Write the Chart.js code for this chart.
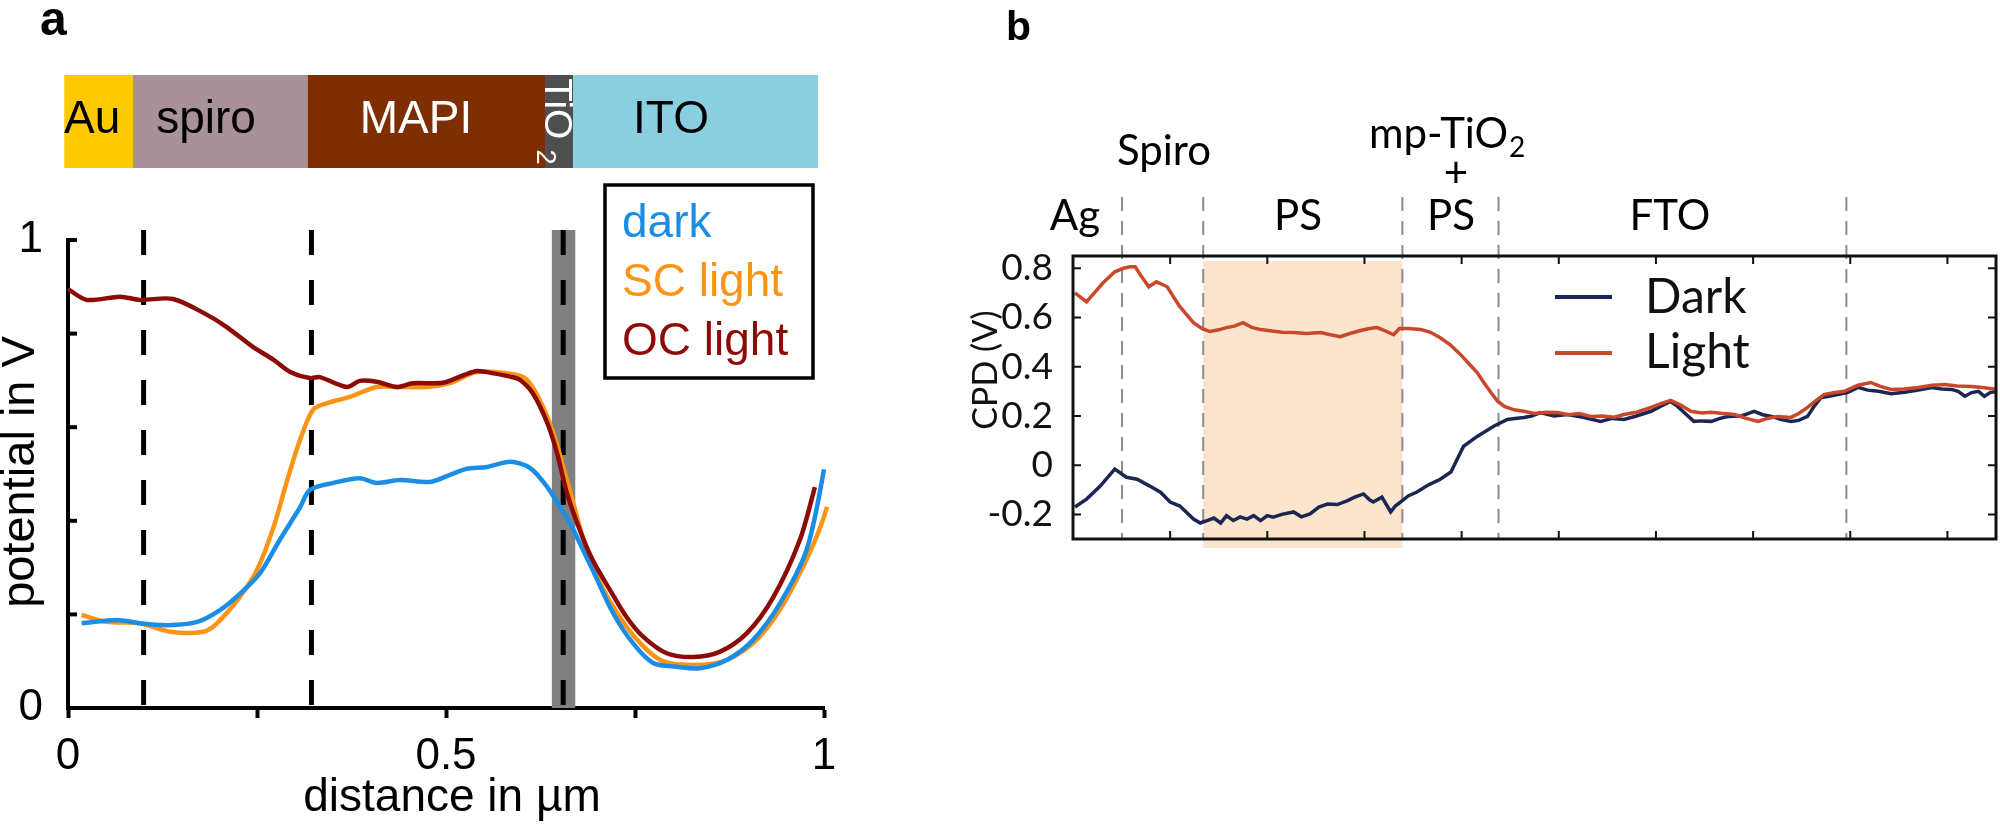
<!DOCTYPE html>
<html lang="pt-BR">
<head>
<meta charset="utf-8">
<title>Perfis de potencial</title>
<script src="https://cdn.jsdelivr.net/npm/chart.js@4.4.1/dist/chart.umd.min.js"></script>
<style>
    html, body { margin: 0; padding: 0; background: #fff; }
    body { width: 2000px; height: 825px; position: relative; overflow: hidden; }
    canvas { position: absolute; top: 0; }
    #graficoA { left: 0; }
    #graficoB { left: 940px; }
</style>
</head>
<body>
<canvas id="graficoA" width="940" height="825"></canvas>
<canvas id="graficoB" width="1060" height="825"></canvas>
<script>
// ---------------- Painel a: potencial (V) x distância (µm) ----------------
const distanciaEscuro = [0.018, 0.065, 0.095, 0.131, 0.171, 0.201, 0.228, 0.254, 0.280, 0.307,
    0.320, 0.351, 0.386, 0.408, 0.439, 0.479, 0.505, 0.527, 0.554, 0.585,
    0.611, 0.634, 0.651, 0.664, 0.694, 0.721, 0.747, 0.774, 0.805, 0.836,
    0.872, 0.906, 0.942, 0.977, 1.0, 1.018];
const potencialEscuro = [0.181, 0.188, 0.181, 0.177, 0.184, 0.209, 0.245, 0.288, 0.359, 0.429,
    0.466, 0.481, 0.491, 0.481, 0.487, 0.483, 0.498, 0.511, 0.515, 0.526,
    0.513, 0.472, 0.429, 0.395, 0.295, 0.203, 0.139, 0.096, 0.088, 0.085,
    0.103, 0.145, 0.224, 0.338, 0.51, 0.70];

const distanciaSC = [0.018, 0.051, 0.095, 0.135, 0.179, 0.197, 0.227, 0.250, 0.272, 0.290,
    0.307, 0.324, 0.342, 0.373, 0.408, 0.435, 0.475, 0.505, 0.541, 0.589,
    0.607, 0.624, 0.642, 0.660, 0.694, 0.739, 0.783, 0.827, 0.872, 0.915,
    0.959, 1.004, 1.018];
const potencialSC = [0.199, 0.184, 0.181, 0.163, 0.163, 0.181, 0.237, 0.295, 0.387, 0.487,
    0.573, 0.637, 0.651, 0.665, 0.686, 0.686, 0.686, 0.694, 0.718, 0.713,
    0.701, 0.658, 0.587, 0.487, 0.302, 0.173, 0.103, 0.092, 0.103, 0.152,
    0.259, 0.43, 0.61];

const distanciaOC = [0, 0.025, 0.069, 0.095, 0.139, 0.184, 0.210, 0.245, 0.272, 0.294,
    0.320, 0.333, 0.369, 0.386, 0.408, 0.435, 0.456, 0.496, 0.523, 0.541,
    0.563, 0.585, 0.598, 0.615, 0.634, 0.647, 0.660, 0.677, 0.694, 0.717,
    0.739, 0.761, 0.792, 0.827, 0.862, 0.898, 0.933, 0.968, 0.988];
const potencialOC = [0.895, 0.872, 0.879, 0.872, 0.874, 0.840, 0.814, 0.771, 0.744, 0.718,
    0.705, 0.707, 0.686, 0.699, 0.697, 0.686, 0.694, 0.695, 0.711, 0.720,
    0.715, 0.708, 0.701, 0.672, 0.609, 0.544, 0.459, 0.380, 0.316, 0.252,
    0.194, 0.152, 0.117, 0.109, 0.120, 0.160, 0.237, 0.359, 0.472];

const seriesA = ['dark', 'SC light', 'OC light'];
const ticksXA = [0, 0.25, 0.5, 0.75, 1];
const rotulosXA = ['0', '', '0.5', '', '1'];
const ticksYA = [0, 0.2, 0.4, 0.6, 0.8, 1];
const rotulosYA = ['0', '', '', '', '', '1'];

// camadas do dispositivo (limites em µm)
const camadasA = ['Au', 'spiro', 'MAPI', 'TiO2', 'ITO'];
const limitesCamadasA = [-0.005, 0.086, 0.317, 0.631, 0.668, 0.992];
const interfacesA = [0.100, 0.322, 0.655];
const faixaTiO2 = [0.640, 0.671];

// ---------------- Painel b: CPD (V) ----------------
const posicaoDarkB = [0.02, 0.14, 0.28, 0.43, 0.55, 0.66, 0.79, 0.90, 1.00, 1.10,
    1.24, 1.31, 1.38, 1.45, 1.52, 1.58, 1.65, 1.72, 1.79, 1.86,
    1.93, 2.00, 2.06, 2.15, 2.27, 2.35, 2.44, 2.53, 2.62, 2.72,
    2.82, 2.90, 2.99, 3.05, 3.09, 3.18, 3.27, 3.32, 3.37, 3.45,
    3.54, 3.66, 3.78, 3.89, 4.02, 4.16, 4.33, 4.47, 4.55, 4.64,
    4.72, 4.81, 4.95, 5.09, 5.25, 5.43, 5.55, 5.67, 5.80, 5.95,
    6.05, 6.15, 6.22, 6.29, 6.39, 6.47, 6.57, 6.66, 6.74, 6.88,
    7.01, 7.10, 7.19, 7.29, 7.39, 7.47, 7.56, 7.63, 7.70, 7.78,
    7.87, 7.97, 8.08, 8.18, 8.29, 8.42, 8.56, 8.70, 8.84, 8.94,
    9.04, 9.11, 9.18, 9.25, 9.32, 9.38, 9.44, 9.50];
const cpdDarkB = [-0.17, -0.138, -0.085, -0.016, -0.049, -0.057, -0.085, -0.11, -0.15, -0.166,
    -0.219, -0.235, -0.225, -0.215, -0.235, -0.205, -0.225, -0.21, -0.219, -0.205,
    -0.225, -0.205, -0.211, -0.2, -0.19, -0.21, -0.198, -0.17, -0.158, -0.16,
    -0.145, -0.13, -0.117, -0.14, -0.15, -0.13, -0.19, -0.165, -0.15, -0.125,
    -0.109, -0.08, -0.057, -0.028, 0.077, 0.117, 0.158, 0.186, 0.19, 0.194,
    0.2, 0.214, 0.2, 0.206, 0.195, 0.178, 0.19, 0.186, 0.2, 0.219,
    0.24, 0.259, 0.24, 0.214, 0.178, 0.18, 0.178, 0.19, 0.198, 0.2,
    0.219, 0.205, 0.198, 0.185, 0.178, 0.182, 0.198, 0.24, 0.275, 0.28,
    0.287, 0.295, 0.316, 0.305, 0.3, 0.29, 0.296, 0.305, 0.316, 0.31,
    0.308, 0.3, 0.28, 0.295, 0.3, 0.28, 0.295, 0.3];

const posicaoLightB = [0.02, 0.14, 0.22, 0.31, 0.43, 0.52, 0.59, 0.64, 0.70, 0.78,
    0.86, 0.97, 1.04, 1.10, 1.24, 1.33, 1.41, 1.50, 1.58, 1.66,
    1.75, 1.84, 1.93, 2.05, 2.15, 2.27, 2.40, 2.55, 2.65, 2.75,
    2.85, 2.96, 3.05, 3.13, 3.22, 3.30, 3.36, 3.45, 3.58, 3.68,
    3.78, 3.88, 3.99, 4.08, 4.16, 4.23, 4.30, 4.37, 4.44, 4.54,
    4.64, 4.75, 4.87, 4.99, 5.10, 5.21, 5.33, 5.45, 5.57, 5.67,
    5.80, 5.95, 6.05, 6.15, 6.25, 6.36, 6.47, 6.57, 6.69, 6.81,
    6.93, 7.05, 7.15, 7.25, 7.39, 7.47, 7.56, 7.64, 7.73, 7.84,
    7.94, 8.08, 8.21, 8.31, 8.42, 8.55, 8.70, 8.84, 8.97, 9.10,
    9.25, 9.38, 9.50];
const cpdLightB = [0.70, 0.664, 0.70, 0.741, 0.786, 0.80, 0.806, 0.806, 0.77, 0.725,
    0.745, 0.725, 0.68, 0.644, 0.579, 0.555, 0.543, 0.55, 0.559, 0.565,
    0.579, 0.56, 0.551, 0.545, 0.54, 0.539, 0.535, 0.539, 0.53, 0.522,
    0.535, 0.547, 0.555, 0.559, 0.545, 0.530, 0.555, 0.555, 0.551, 0.54,
    0.518, 0.49, 0.449, 0.41, 0.376, 0.335, 0.296, 0.26, 0.239, 0.225,
    0.219, 0.21, 0.215, 0.214, 0.205, 0.21, 0.198, 0.2, 0.195, 0.206,
    0.215, 0.235, 0.25, 0.263, 0.245, 0.219, 0.212, 0.215, 0.21, 0.206,
    0.19, 0.178, 0.19, 0.198, 0.194, 0.21, 0.235, 0.26, 0.287, 0.295,
    0.3, 0.325, 0.336, 0.32, 0.308, 0.31, 0.316, 0.325, 0.328, 0.322,
    0.32, 0.315, 0.308];

const seriesB = ['Dark', 'Light'];
const ticksXB = [0, 1, 2, 3, 4, 5, 6, 7, 8, 9];
const ticksYB = [-0.2, 0, 0.2, 0.4, 0.6, 0.8];
const rotulosYB = ['-0.2', '0', '0.2', '0.4', '0.6', '0.8'];
const interfacesB = [0.505, 1.34, 3.39, 4.38, 7.96];
const regiaoPS = [1.34, 3.39];

const FONTE_A = "'Liberation Sans', Arial, sans-serif";
const FONTE_B = "Lato, 'Liberation Sans', sans-serif";
const CORES_A = ['#1a8ee6', '#fb9414', '#8c0b06'];
const CORES_B = ['#1c2653', '#c9482b'];


// junta x e y em pontos para o Chart.js
function montarPontos(xs, ys) {
    return xs.map(function (x, i) { return { x: x, y: ys[i] }; });
}

function escrever(ctx, texto, x, y, fonte, cor, alinhamento) {
    ctx.font = fonte;
    ctx.fillStyle = cor;
    ctx.textAlign = alinhamento || 'left';
    ctx.textBaseline = 'alphabetic';
    ctx.fillText(texto, x, y);
}


// Desenhos extras do painel a (camadas, legenda, tracejados)
const desenhoPainelA = {
    id: 'desenhoPainelA',
    beforeDatasetsDraw(chart) {
        const ctx = chart.ctx;
        const x = chart.scales.x;
        const area = chart.chartArea;
        const topo = area.top - 10;
        ctx.save();
        const f0 = x.getPixelForValue(faixaTiO2[0]);
        const f1 = x.getPixelForValue(faixaTiO2[1]);
        ctx.fillStyle = '#808080';
        ctx.fillRect(f0, topo, f1 - f0, area.bottom - topo);

        ctx.strokeStyle = '#000';
        ctx.lineWidth = 5;
        ctx.setLineDash([25, 25]);
        interfacesA.forEach(function (pos) {
            const px = x.getPixelForValue(pos);
            ctx.beginPath();
            ctx.moveTo(px, topo);
            ctx.lineTo(px, area.bottom);
            ctx.stroke();
        });
        ctx.restore();
    },
    afterDraw(chart) {
        const ctx = chart.ctx;
        const x = chart.scales.x;
        const y = chart.scales.y;
        const area = chart.chartArea;
        ctx.save();

        // marcas do eixo y para dentro
        ctx.strokeStyle = '#000';
        ctx.lineWidth = 4;
        ticksYA.forEach(function (v) {
            const py = y.getPixelForValue(v);
            ctx.beginPath();
            ctx.moveTo(area.left, py);
            ctx.lineTo(area.left + 9, py);
            ctx.stroke();
        });

        // barra das camadas
        const coresCamadas = ['#fdc900', '#a99199', '#7e2f02', '#4f4f4f', '#8acfdf'];
        for (let i = 0; i < camadasA.length; i++) {
            const a = x.getPixelForValue(limitesCamadasA[i]);
            const b = x.getPixelForValue(limitesCamadasA[i + 1]);
            ctx.fillStyle = coresCamadas[i];
            ctx.fillRect(a, 75, b - a, 93);
        }
        const fonteCamada = '46px ' + FONTE_A;
        escrever(ctx, 'Au', 64, 133, fonteCamada, '#000', 'left');
        escrever(ctx, 'spiro', 206, 133, fonteCamada, '#000', 'center');
        escrever(ctx, 'MAPI', 416, 133, fonteCamada, '#fff', 'center');
        escrever(ctx, 'ITO', 671, 133, fonteCamada, '#000', 'center');
        // TiO2 girado
        ctx.save();
        ctx.translate(545, 78);
        ctx.rotate(Math.PI / 2);
        escrever(ctx, 'TiO', 0, 0, '39px ' + FONTE_A, '#fff', 'left');
        const largura = ctx.measureText('TiO').width;
        escrever(ctx, '2', largura + 10, 8, '27px ' + FONTE_A, '#fff', 'left');
        ctx.restore();

        // legenda
        ctx.strokeStyle = '#000';
        ctx.lineWidth = 3.5;
        ctx.strokeRect(605, 185, 208, 193);
        const fonteLegenda = '46px ' + FONTE_A;
        const linhas = [237, 296, 355];
        seriesA.forEach(function (nome, i) {
            escrever(ctx, nome, 622, linhas[i], fonteLegenda, CORES_A[i], 'left');
        });

        // títulos dos eixos
        escrever(ctx, 'distance in µm', 452, 811, '46px ' + FONTE_A, '#000', 'center');
        ctx.save();
        ctx.translate(34, 472);
        ctx.rotate(-Math.PI / 2);
        escrever(ctx, 'potential in V', 0, 0, '47px ' + FONTE_A, '#000', 'center');
        ctx.restore();

        escrever(ctx, 'a', 40, 35, 'bold 48px ' + FONTE_A, '#000', 'left');
        ctx.restore();
    }
};


// Desenhos extras do painel b (moldura, região PS, rótulos)
// canvas começa em x = 940 da página
const desenhoPainelB = {
    id: 'desenhoPainelB',
    beforeDatasetsDraw(chart) {
        const ctx = chart.ctx;
        const x = chart.scales.x;
        const area = chart.chartArea;
        ctx.save();
        const r0 = x.getPixelForValue(regiaoPS[0]);
        const r1 = x.getPixelForValue(regiaoPS[1]);
        ctx.fillStyle = '#fbe6cd';
        ctx.fillRect(r0, area.top + 5, r1 - r0, area.bottom - area.top + 4);

        ctx.strokeStyle = '#8c8c8c';
        ctx.lineWidth = 2;
        ctx.setLineDash([14, 10]);
        interfacesB.forEach(function (pos) {
            const px = x.getPixelForValue(pos);
            ctx.beginPath();
            ctx.moveTo(px, 197);
            ctx.lineTo(px, area.bottom);
            ctx.stroke();
        });
        ctx.restore();
    },
    afterDraw(chart) {
        const ctx = chart.ctx;
        const x = chart.scales.x;
        const y = chart.scales.y;
        const area = chart.chartArea;
        ctx.save();

        // moldura e marcas internas
        ctx.strokeStyle = '#111';
        ctx.lineWidth = 3;
        ctx.strokeRect(area.left, area.top, area.right - area.left, area.bottom - area.top);
        ctx.lineWidth = 2;
        ticksYB.forEach(function (v) {
            const py = y.getPixelForValue(v);
            ctx.beginPath();
            ctx.moveTo(area.left, py);
            ctx.lineTo(area.left + 8, py);
            ctx.moveTo(area.right, py);
            ctx.lineTo(area.right - 8, py);
            ctx.stroke();
        });
        ticksXB.forEach(function (v) {
            const px = x.getPixelForValue(v);
            ctx.beginPath();
            ctx.moveTo(px, area.top);
            ctx.lineTo(px, area.top + 8);
            ctx.moveTo(px, area.bottom);
            ctx.lineTo(px, area.bottom - 8);
            ctx.stroke();
        });

        // rótulos das camadas
        const fonteCamada = '42px ' + FONTE_B;
        escrever(ctx, 'Ag', 135, 230, fonteCamada, '#000', 'center');
        escrever(ctx, 'Spiro', 224, 165, fonteCamada, '#000', 'center');
        escrever(ctx, 'PS', 358, 230, fonteCamada, '#000', 'center');
        escrever(ctx, 'mp-TiO', 429, 148, fonteCamada, '#000', 'left');
        ctx.font = fonteCamada;
        const largura = ctx.measureText('mp-TiO').width;
        escrever(ctx, '2', 429 + largura + 1, 157, '28px ' + FONTE_B, '#000', 'left');
        escrever(ctx, '+', 516, 187, fonteCamada, '#000', 'center');
        escrever(ctx, 'PS', 511, 230, fonteCamada, '#000', 'center');
        escrever(ctx, 'FTO', 730, 230, fonteCamada, '#000', 'center');

        // legenda
        const linhasLegenda = [297, 353];
        const basesLegenda = [313, 368];
        ctx.lineWidth = 4;
        seriesB.forEach(function (nome, i) {
            ctx.strokeStyle = CORES_B[i];
            ctx.beginPath();
            ctx.moveTo(615, linhasLegenda[i]);
            ctx.lineTo(672, linhasLegenda[i]);
            ctx.stroke();
            escrever(ctx, nome, 705, basesLegenda[i], '48px ' + FONTE_B, '#111', 'left');
        });

        // título do eixo y
        ctx.save();
        ctx.translate(57, 370);
        ctx.rotate(-Math.PI / 2);
        escrever(ctx, 'CPD (V)', 0, 0, '34px ' + FONTE_B, '#111', 'center');
        ctx.restore();

        escrever(ctx, 'b', 66, 40, 'bold 41px ' + FONTE_A, '#000', 'left');
        ctx.restore();
    }
};


function plotarGraficoA() {
    let dados = {
        datasets: [
            { label: seriesA[0], data: montarPontos(distanciaEscuro, potencialEscuro), borderColor: CORES_A[0], order: 1 },
            { label: seriesA[1], data: montarPontos(distanciaSC, potencialSC), borderColor: CORES_A[1], order: 2 },
            { label: seriesA[2], data: montarPontos(distanciaOC, potencialOC), borderColor: CORES_A[2], order: 0 }
        ]
    };
    dados.datasets.forEach(function (d) {
        d.borderWidth = 4.5;
        d.pointRadius = 0;
        d.tension = 0.3;
        d.clip = false;
        d.fill = false;
    });

    const config = {
        type: 'line',
        data: dados,
        options: {
            responsive: false,
            animation: false,
            layout: { padding: { top: 240, right: 116, left: 0, bottom: 0 } },
            plugins: { legend: { display: false }, tooltip: { enabled: false } },
            scales: {
                x: {
                    type: 'linear', min: 0, max: 1,
                    afterFit: function (escala) { escala.height = 117; },
                    afterBuildTicks: function (escala) { escala.ticks = ticksXA.map(function (v) { return { value: v }; }); },
                    ticks: {
                        autoSkip: false, maxRotation: 0, padding: 12, color: '#000',
                        font: { family: FONTE_A, size: 44 },
                        callback: function (valor, indice) { return rotulosXA[indice]; }
                    },
                    grid: { drawOnChartArea: false, drawTicks: true, tickLength: 10, tickWidth: 4, color: '#000' },
                    border: { display: true, color: '#000', width: 4 }
                },
                y: {
                    type: 'linear', min: 0, max: 1,
                    afterFit: function (escala) { escala.width = 68; },
                    afterBuildTicks: function (escala) { escala.ticks = ticksYA.map(function (v) { return { value: v }; }); },
                    ticks: {
                        autoSkip: false, padding: 25, color: '#000',
                        font: { family: FONTE_A, size: 44 },
                        callback: function (valor, indice) { return rotulosYA[indice]; }
                    },
                    grid: { drawOnChartArea: false, drawTicks: false },
                    border: { display: true, color: '#000', width: 4 }
                }
            }
        },
        plugins: [desenhoPainelA]
    };

    let graficoA = new Chart(document.getElementById('graficoA'), config);
}


function plotarGraficoB() {
    let dados = {
        datasets: [
            { label: seriesB[0], data: montarPontos(posicaoDarkB, cpdDarkB), borderColor: CORES_B[0], order: 1 },
            { label: seriesB[1], data: montarPontos(posicaoLightB, cpdLightB), borderColor: CORES_B[1], order: 0 }
        ]
    };
    dados.datasets.forEach(function (d) {
        d.borderWidth = 3.5;
        d.pointRadius = 0;
        d.tension = 0;
        d.fill = false;
    });

    const config = {
        type: 'line',
        data: dados,
        options: {
            responsive: false,
            animation: false,
            layout: { padding: { top: 256, right: 4, left: 0, bottom: 0 } },
            plugins: { legend: { display: false }, tooltip: { enabled: false } },
            scales: {
                x: {
                    type: 'linear', min: 0, max: 9.5,
                    afterFit: function (escala) { escala.height = 286; },
                    ticks: { display: false },
                    grid: { display: false },
                    border: { display: false }
                },
                y: {
                    type: 'linear', min: -0.3, max: 0.85,
                    afterFit: function (escala) { escala.width = 133; },
                    afterBuildTicks: function (escala) { escala.ticks = ticksYB.map(function (v) { return { value: v }; }); },
                    ticks: {
                        autoSkip: false, padding: 12, color: '#111',
                        font: { family: FONTE_B, size: 37 },
                        callback: function (valor, indice) { return rotulosYB[indice]; }
                    },
                    grid: { display: false },
                    border: { display: false }
                }
            }
        },
        plugins: [desenhoPainelB]
    };

    let graficoB = new Chart(document.getElementById('graficoB'), config);
}

plotarGraficoA();
plotarGraficoB();
</script>
</body>
</html>
